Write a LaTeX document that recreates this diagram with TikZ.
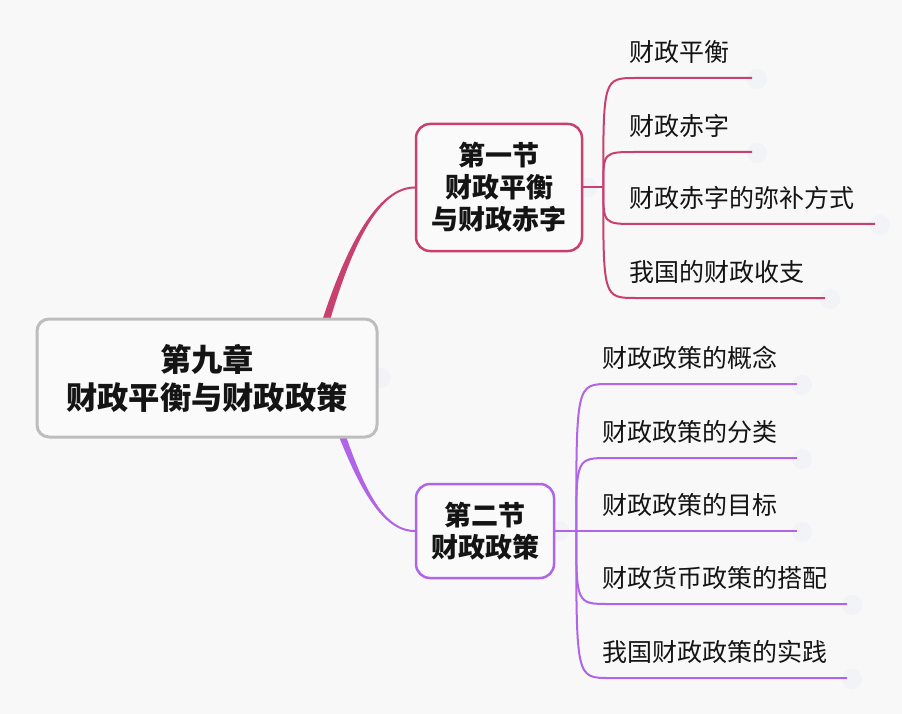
\documentclass[tikz,border=0pt]{standalone}
\usepackage{fontspec}
\setmainfont{Noto Sans CJK SC}
\usetikzlibrary{calc}
\definecolor{bgc}{HTML}{F8F8F8}
\definecolor{boxfill}{HTML}{FAFAFA}
\definecolor{rootgray}{HTML}{BDBDBD}
\definecolor{secone}{HTML}{C8416E}
\definecolor{sectwo}{HTML}{B064E8}
\definecolor{ghostc}{HTML}{F2F3F7}
\definecolor{txt}{HTML}{141414}
\tikzset{
  rootbox/.style={draw=rootgray, line width=3pt, rounded corners=12pt, fill=boxfill,
    minimum width=340pt, minimum height=118pt, align=center, inner sep=0pt, text=txt,
    font=\fontsize{31.3}{38}\selectfont\bfseries},
  secbox/.style={draw=#1, line width=2.5pt, rounded corners=14pt, fill=boxfill,
    align=center, inner sep=0pt, text=txt, font=\fontsize{27}{32}\selectfont\bfseries},
  leaf/.style={anchor=west, inner sep=0pt, text=txt, font=\fontsize{25}{28}\selectfont},
  branch/.style={draw=#1, line width=2pt},
  ghost/.style={circle, fill=ghostc, minimum size=20pt, inner sep=0pt},
}
\begin{document}
\begin{tikzpicture}[x=1pt,y=-1pt]
\fill[bgc] (0,0) rectangle (902,714);
\useasboundingbox (0,0) rectangle (902,714);

% boxes (positions only, drawn later on top)
\path (207,378) node[rootbox, draw=none, fill=none, text opacity=0] (root) {第九章\\财政平衡与财政政策};
\path (499,187.5) node[secbox=secone, minimum width=166pt, minimum height=127pt, draw=none, fill=none, text opacity=0] (s1) {第一节\\财政平衡\\与财政赤字};
\path (485,531) node[secbox=sectwo, minimum width=138pt, minimum height=94pt, draw=none, fill=none, text opacity=0] (s2) {第二节\\财政政策};

% tapered main connectors
\fill[secone] ($(root.center)+(98.5,0)$) .. controls ($(root.center)+(129.8,-119.5)$) and ($(s1.west)+(-41,-1)$) .. ($(s1.west)+(0,-1)$)
  -- ($(s1.west)+(0,1)$) .. controls ($(s1.west)+(-41,1)$) and ($(root.center)+(136.2,-116.5)$) .. ($(root.center)+(107.5,0)$) -- cycle;
\fill[sectwo] ($(root.center)+(110.5,0)$) .. controls ($(root.center)+(139.7,83.2)$) and ($(s2.west)+(-41,1)$) .. ($(s2.west)+(0,1)$)
  -- ($(s2.west)+(0,-1)$) .. controls ($(s2.west)+(-41,-1)$) and ($(root.center)+(146.3,80.8)$) .. ($(root.center)+(119.5,0)$) -- cycle;

% junctions and line ends
\coordinate (j1) at ($(s1.east)+(20,0)$);
\coordinate (j2) at ($(s2.east)+(21,0)$);
\coordinate (e11) at (752,78);
\coordinate (e12) at (752,152);
\coordinate (e13) at (875,224);
\coordinate (e14) at (825,298);
\coordinate (e21) at (797,384);
\coordinate (e22) at (797,458);
\coordinate (e23) at (797,531);
\coordinate (e24) at (847,604);
\coordinate (e25) at (847,678);

% faint handles
\foreach \e in {e11,e12,e13,e14,e21,e22,e23,e24,e25}
  \node[ghost] at ($(\e)+(5,1)$) {};
\node[ghost] at ($(root.east)+(2,0)$) {};
\node[ghost] at ($(s1.east)+(4,0)$) {};
\node[ghost] at ($(s2.east)+(4,0)$) {};

% section 1 branches
\draw[branch=secone] (s1.east) -- (j1);
\foreach \e in {e11,e12,e13,e14}
  \draw[branch=secone] (j1) .. controls (j1 |- \e) .. ($(j1 |- \e)+(33,0)$) -- (\e);

% section 2 branches
\draw[branch=sectwo] (s2.east) -- (e23);
\foreach \e in {e21,e22,e24,e25}
  \draw[branch=sectwo] (j2) .. controls (j2 |- \e) .. ($(j2 |- \e)+(33,0)$) -- (\e);

% boxes drawn on top
\node[rootbox] (rootv) at (root.center) {第九章\\财政平衡与财政政策};
\node[secbox=secone, minimum width=166pt, minimum height=127pt] (s1v) at (s1.center) {第一节\\财政平衡\\与财政赤字};
\node[secbox=sectwo, minimum width=138pt, minimum height=94pt] (s2v) at (s2.center) {第二节\\财政政策};

% leaves
\node[leaf] (c11) at (629,52) {财政平衡};
\node[leaf] (c12) at (629,126) {财政赤字};
\node[leaf] (c13) at (629,198) {财政赤字的弥补方式};
\node[leaf] (c14) at (629,272) {我国的财政收支};
\node[leaf] (c21) at (602,358) {财政政策的概念};
\node[leaf] (c22) at (602,432) {财政政策的分类};
\node[leaf] (c23) at (602,505) {财政政策的目标};
\node[leaf] (c24) at (602,578) {财政货币政策的搭配};
\node[leaf] (c25) at (602,652) {我国财政政策的实践};
\end{tikzpicture}
\end{document}
